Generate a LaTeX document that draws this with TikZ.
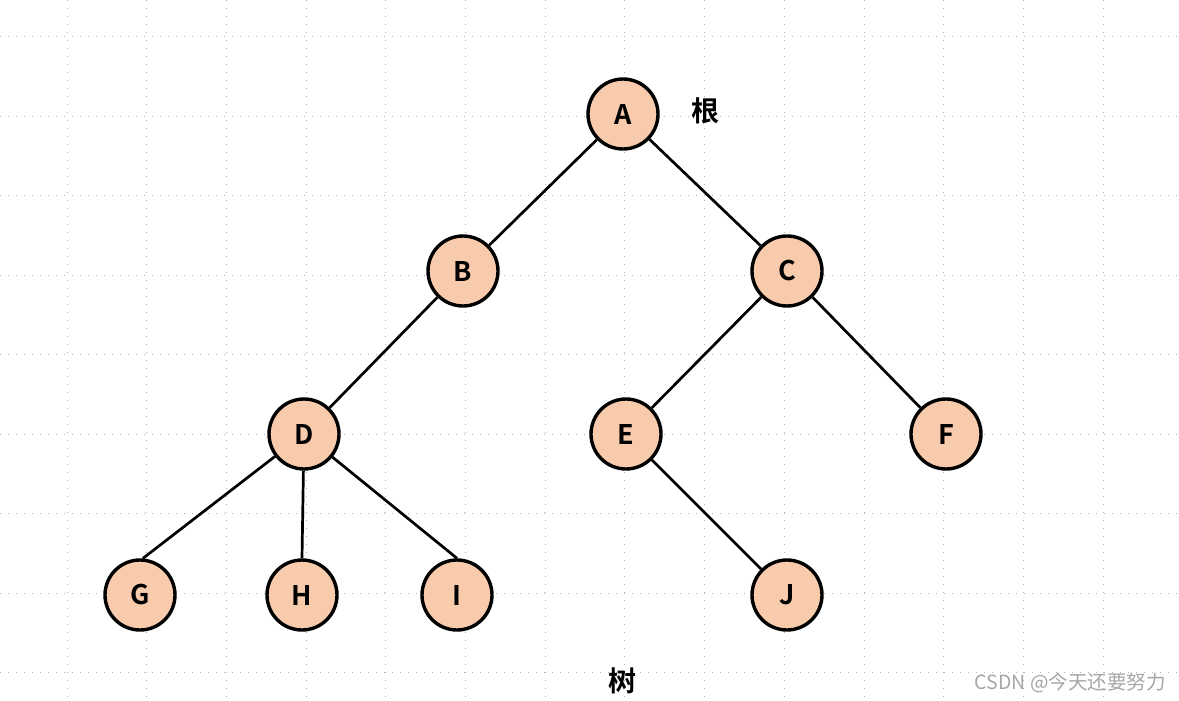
\documentclass[tikz,border=0pt]{standalone}
\usepackage{fontspec}
\setmainfont{Noto Sans CJK SC}[BoldFont={Noto Sans CJK SC Bold}]
\begin{document}
\begin{tikzpicture}[x=1pt,y=-1pt,
  treenode/.style={circle,draw=black,line width=3.4pt,fill=nodefill,minimum size=70pt,inner sep=0pt,font=\bfseries\fontsize{27}{27}\selectfont},
  edge/.style={line width=2.7pt,black},
  gridline/.style={draw=gray!60,line width=0.9pt,dash pattern=on 1pt off 7pt},
  lbl/.style={font=\bfseries\fontsize{28}{28}\selectfont}]
\definecolor{nodefill}{HTML}{F8CBAD}
\useasboundingbox (0,0) rectangle (1179,701);
\fill[white] (0,0) rectangle (1179,701);
% grid
\foreach \i in {0,...,14} {
  \draw[gridline] ({67+79.7*\i},0) -- ({67+79.7*\i},701);
}
\foreach \j in {0,...,8} {
  \draw[gridline] (0,{36.5+79.5*\j}) -- (1179,{36.5+79.5*\j});
}
% nodes
\node[treenode] (A) at (623,114) {A};
\node[treenode] (B) at (463,271) {B};
\node[treenode] (C) at (787,271) {C};
\node[treenode] (D) at (304,434) {D};
\node[treenode] (E) at (626,434) {E};
\node[treenode] (F) at (946,434) {F};
\node[treenode] (G) at (140,595) {G};
\node[treenode] (H) at (302,595) {H};
\node[treenode] (I) at (457,595) {I};
\node[treenode] (J) at (787,595) {J};
% edges
\draw[edge] (A) -- (B);
\draw[edge] (A) -- (C);
\draw[edge] (B) -- (D);
\draw[edge] (C) -- (E);
\draw[edge] (C) -- (F);
\draw[edge] (D) -- ([xshift=3pt]G.north);
\draw[edge] (D) -- (H.north);
\draw[edge] (D) -- (I.north);
\draw[edge] (E) -- (J);
% labels
\node[lbl] (root) at (705,111) {根};
\node[lbl] (tree) at (622,681) {树};
\node[anchor=east,text=gray!70,font=\fontsize{19.5}{19.5}\selectfont,inner sep=0pt] (wm) at (1166,683) {CSDN @今天还要努力};
\end{tikzpicture}
\end{document}
